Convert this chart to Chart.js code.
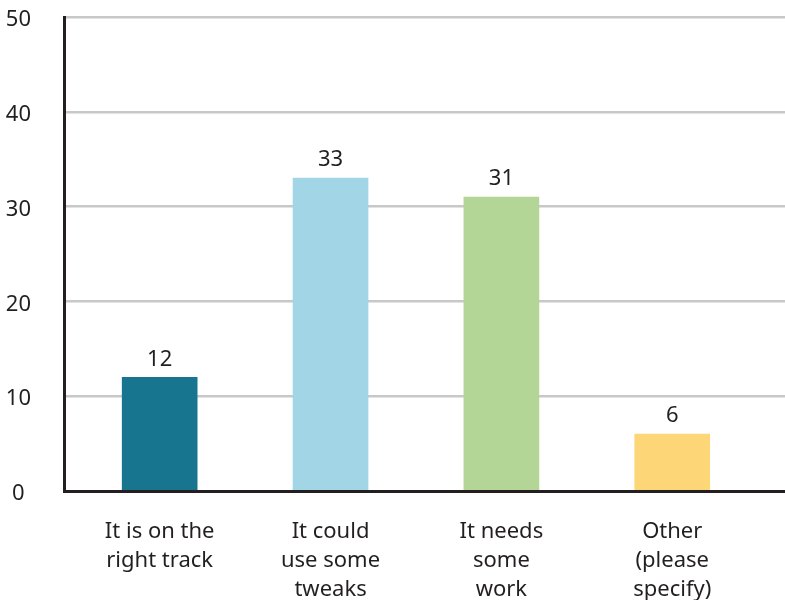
<!DOCTYPE html>
<html>
<head>
<meta charset="utf-8">
<script src="https://cdn.jsdelivr.net/npm/chart.js@4.4.1/dist/chart.umd.min.js"></script>
<style>
  html, body { margin: 0; padding: 0; background: #ffffff; }
  #wrap { width: 785px; height: 600px; }
</style>
</head>
<body>
<div id="wrap"><canvas id="c" width="785" height="600"></canvas></div>
<script>
const categories = [
  ["It is on the", "right track"],
  ["It could", "use some", "tweaks"],
  ["It needs", "some", "work"],
  ["Other", "(please", "specify)"]
];
const values = [12, 33, 31, 6];
const barColors = ["#17758f", "#a2d5e5", "#b3d697", "#fdd678"];
const yTicks = [0, 10, 20, 30, 40, 50];

const positions = categories.map((_, i) => i);
const points = positions.map((p, i) => ({ x: p, y: values[i] }));

const FONT = "'Noto Sans', 'Open Sans', sans-serif";
const INK = "#231f20";

const valueLabels = {
  id: 'valueLabels',
  afterDatasetsDraw(chart) {
    const ctx = chart.ctx;
    const meta = chart.getDatasetMeta(0);
    ctx.save();
    ctx.font = "22px " + FONT;
    ctx.fillStyle = INK;
    ctx.textAlign = 'center';
    ctx.textBaseline = 'bottom';
    meta.data.forEach((bar, i) => {
      ctx.fillText(String(values[i]), bar.x, bar.y - 7);
    });
    ctx.restore();
  }
};

new Chart(document.getElementById('c'), {
  type: 'bar',
  data: {
    datasets: [{
      data: points,
      backgroundColor: barColors,
      borderWidth: 0,
      barThickness: 75
    }]
  },
  options: {
    responsive: false,
    animation: false,
    layout: { padding: { top: 17, right: 0, bottom: 0, left: 0 } },
    plugins: { legend: { display: false }, tooltip: { enabled: false } },
    scales: {
      x: {
        type: 'linear',
        offset: false,
        min: -0.56,
        max: 3.66,
        afterBuildTicks: axis => { axis.ticks = positions.map(v => ({ value: v })); },
        afterFit: s => { s.height = 109; s.paddingLeft = 0; s.paddingRight = 0; s.paddingTop = 0; s.paddingBottom = 0; },
        grid: { display: true, color: 'rgba(0,0,0,0)', drawTicks: false },
        border: { display: true, color: INK, width: 3 },
        ticks: {
          autoSkip: false,
          maxRotation: 0,
          minRotation: 0,
          padding: 26,
          color: INK,
          font: { family: FONT, size: 22, lineHeight: 1.32 },
          callback: v => categories[v] || ''
        }
      },
      y: {
        min: 0,
        max: 50,
        afterBuildTicks: axis => { axis.ticks = yTicks.map(v => ({ value: v })); },
        afterFit: s => { s.width = 64; s.paddingTop = 0; s.paddingBottom = 0; s.paddingLeft = 0; s.paddingRight = 0; },
        grid: { color: '#c8c8c8', lineWidth: 2.5, drawTicks: false },
        border: { display: true, color: INK, width: 3 },
        ticks: {
          padding: 33,
          labelOffset: 3,
          crossAlign: 'center',
          color: INK,
          font: { family: FONT, size: 22 }
        }
      }
    }
  },
  plugins: [valueLabels]
});
</script>
</body>
</html>
